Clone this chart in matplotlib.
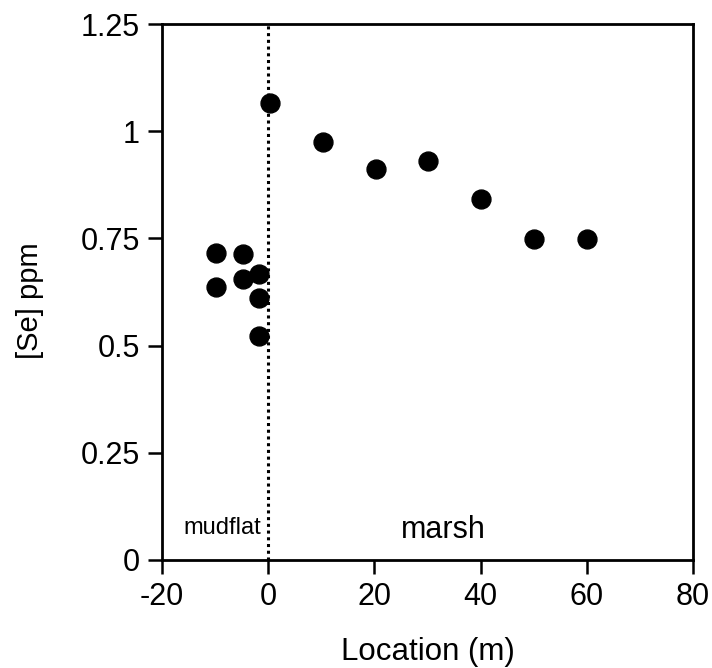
import matplotlib
matplotlib.use("Agg")
import matplotlib.pyplot as plt

# selenium along the transect, mudflat (x<0) and marsh (x>=0)
mud_x = [-9.9, -9.9, -4.8, -4.8, -1.7, -1.8, -1.8]
mud_se = [0.717, 0.636, 0.713, 0.655, 0.667, 0.610, 0.523]
marsh_x = [0.3, 10.3, 20.3, 30.1, 40.1, 50.1, 60.1]
marsh_se = [1.067, 0.974, 0.911, 0.930, 0.843, 0.749, 0.749]

xticks = [-20, 0, 20, 40, 60, 80]
yticks = [0, 0.25, 0.5, 0.75, 1, 1.25]
ytick_labels = ["0", "0.25", "0.5", "0.75", "1", "1.25"]

plt.rcParams["font.family"] = ["Liberation Sans", "DejaVu Sans"]

fig = plt.figure(figsize=(7.12, 6.68), dpi=100)
ax = fig.add_axes([0.2275, 0.1617, 0.7458, 0.8023])

ax.scatter(mud_x + marsh_x, mud_se + marsh_se, s=185, color="black", zorder=3)
ax.axvline(0, color="black", linestyle=(0, (1, 1.2)), linewidth=2.2, zorder=2)

ax.set_xlim(-20, 80)
ax.set_ylim(0, 1.25)
ax.set_xticks(xticks)
ax.set_xticklabels([str(t) for t in xticks])
ax.set_yticks(yticks)
ax.set_yticklabels(ytick_labels)
ax.tick_params(direction="out", length=10, width=1.8, labelsize=22, pad=6)

for sp in ax.spines.values():
    sp.set_linewidth(2)

ax.text(-8.6, 0.075, "mudflat", fontsize=17, ha="center", va="center")
ax.text(33, 0.07, "marsh", fontsize=22, ha="center", va="center")

ax.set_xlabel("Location (m)", fontsize=22.5, labelpad=18)
ax.set_ylabel("[Se] ppm", fontsize=21)
ax.yaxis.set_label_coords(-0.222, 0.483)

fig.savefig("out.png", dpi=100)
